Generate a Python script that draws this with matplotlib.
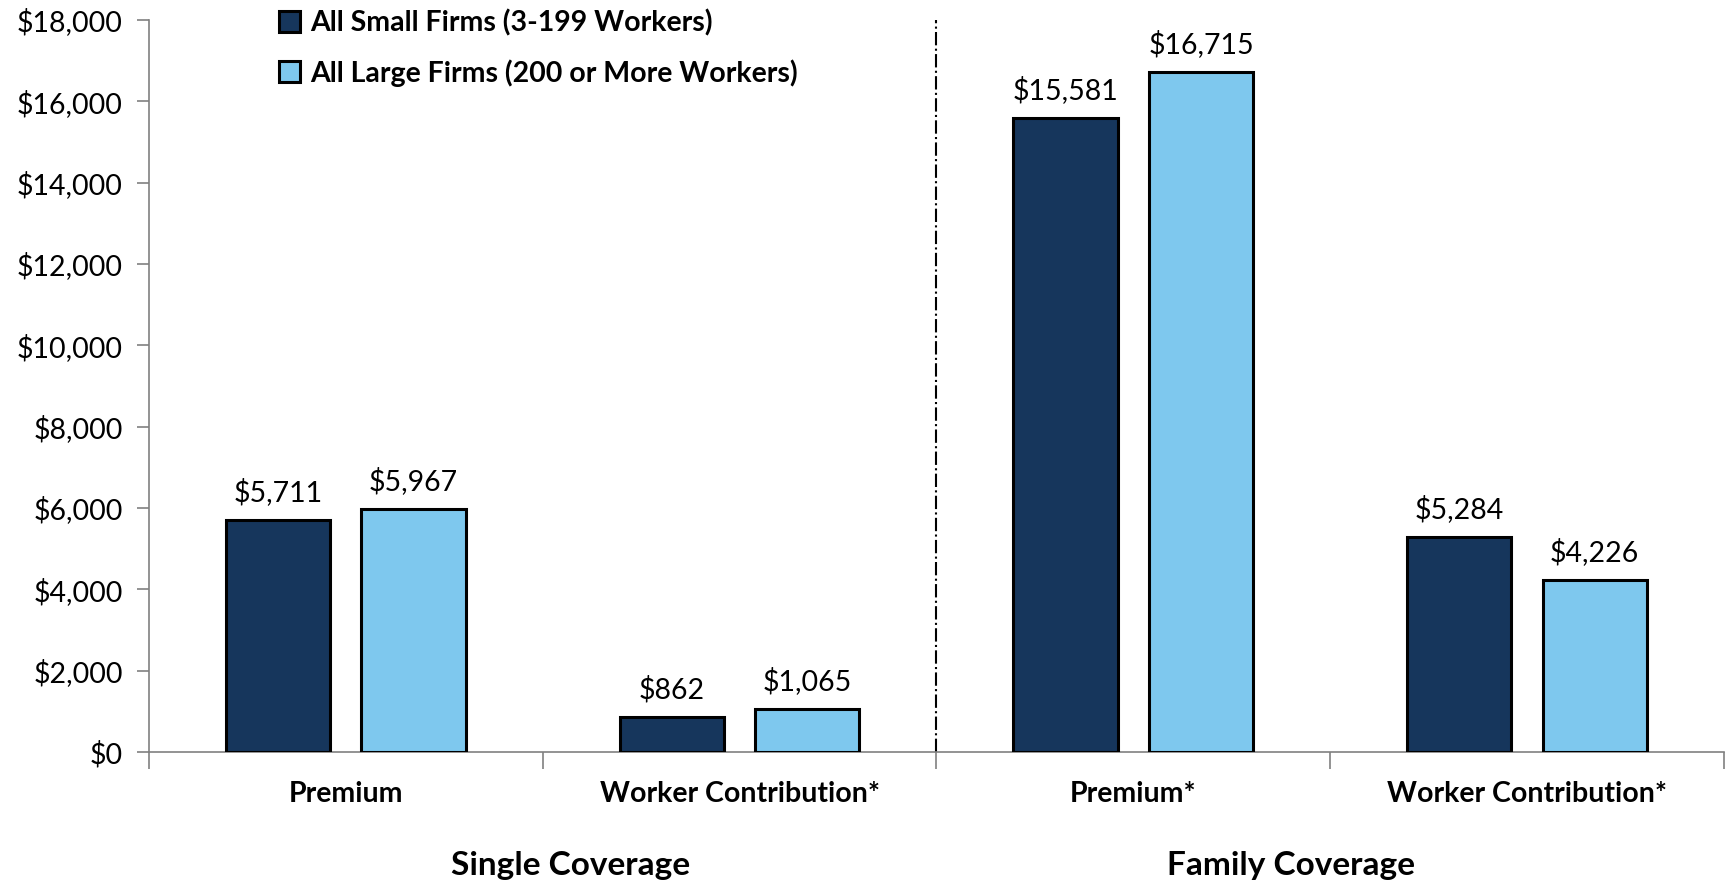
import numpy as np
import matplotlib.pyplot as plt
from matplotlib.ticker import FuncFormatter

categories = ["Premium", "Worker Contribution*", "Premium*", "Worker Contribution*"]
groups = ["Single Coverage", "Family Coverage"]
small_firms = [5711, 862, 15581, 5284]
large_firms = [5967, 1065, 16715, 4226]
series_names = ["All Small Firms (3-199 Workers)", "All Large Firms (200 or More Workers)"]

DARK = "#16365C"
LIGHT = "#7EC8EE"
FONT = ["Lato", "DejaVu Sans"]

plt.rcParams["font.family"] = FONT

fig = plt.figure(figsize=(17.29, 8.88), dpi=100)
ax = fig.add_axes([0.0862, 0.1532, 0.9108, 0.8243])

x = np.arange(len(categories))
w = 0.265
off = 0.172
b1 = ax.bar(x - off, small_firms, w, color=DARK, edgecolor="black", linewidth=2.2, label=series_names[0], zorder=3)
b2 = ax.bar(x + off, large_firms, w, color=LIGHT, edgecolor="black", linewidth=2.2, label=series_names[1], zorder=3)

for bars in (b1, b2):
    for rect in bars:
        h = rect.get_height()
        ax.annotate(f"${h:,.0f}", (rect.get_x() + rect.get_width() / 2, h),
                    xytext=(0, 10), textcoords="offset points",
                    ha="center", va="bottom", fontsize=20.5)

ax.set_xlim(-0.5, 3.5)
ax.set_ylim(0, 18000)
ax.set_yticks(np.arange(0, 18001, 2000))
ax.yaxis.set_major_formatter(FuncFormatter(lambda v, p: f"${v:,.0f}"))
ax.tick_params(axis="y", labelsize=20.5, length=9, width=1.2, color="#808080", pad=10)

ax.set_xticks(np.arange(-0.5, 3.6, 1.0))
ax.set_xticklabels([])
ax.tick_params(axis="x", length=12, width=1.2, color="#808080", direction="out")

for i, c in enumerate(categories):
    ax.text(i, -1030, c, ha="center", va="center", fontsize=20.5, fontweight="bold")

ax.text(0.57, -2800, groups[0], ha="center", va="center", fontsize=24, fontweight="bold")
ax.text(2.40, -2800, groups[1], ha="center", va="center", fontsize=24, fontweight="bold")

for s in ["top", "right"]:
    ax.spines[s].set_visible(False)
for s in ["left", "bottom"]:
    ax.spines[s].set_color("#808080")
    ax.spines[s].set_linewidth(1.2)

ax.axvline(1.5, ymin=0, ymax=1, color="black", linestyle="-.", linewidth=1.5, zorder=2)

leg = ax.legend(loc="upper left", bbox_to_anchor=(0.066, 1.05), frameon=False,
                prop={"weight": "bold", "size": 20.5},
                handlelength=0.75, handleheight=0.75, handletextpad=0.35, labelspacing=0.8)

fig.savefig("out.png", dpi=100)
